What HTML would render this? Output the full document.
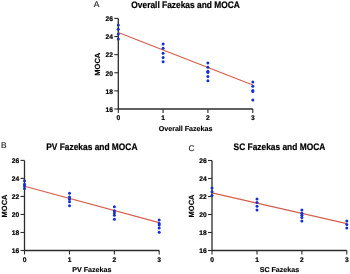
<!DOCTYPE html>
<html><head><meta charset="utf-8"><style>
html,body{margin:0;padding:0;background:#fff;}
body{width:350px;height:274px;overflow:hidden;}
svg{display:block;will-change:transform;}
text{font-family:"Liberation Sans", sans-serif;text-rendering:geometricPrecision;}
.tk{font-size:6.7px;font-weight:bold;fill:#000;stroke:#000;stroke-width:0.2px;}
.al{font-size:7.1px;font-weight:bold;fill:#000;stroke:#000;stroke-width:0.15px;}
.ti{font-size:8.4px;font-weight:bold;fill:#000;stroke:#000;stroke-width:0.2px;}
.pl{font-size:8.4px;fill:#222;stroke:#222;stroke-width:0.15px;}
</style></head><body>
<svg width="350" height="274" viewBox="0 0 350 274">
<rect width="350" height="274" fill="#fff"/>
<path d="M118.30 18.40 V109.00 H252.80" fill="none" stroke="#2c2c2c" stroke-width="1.3"/>
<path d="M114.30 18.40 H118.30" stroke="#2c2c2c" stroke-width="1.1"/>
<text x="113.00" y="21.25" text-anchor="end" class="tk">26</text>
<path d="M114.30 36.52 H118.30" stroke="#2c2c2c" stroke-width="1.1"/>
<text x="113.00" y="39.37" text-anchor="end" class="tk">24</text>
<path d="M114.30 54.64 H118.30" stroke="#2c2c2c" stroke-width="1.1"/>
<text x="113.00" y="57.49" text-anchor="end" class="tk">22</text>
<path d="M114.30 72.76 H118.30" stroke="#2c2c2c" stroke-width="1.1"/>
<text x="113.00" y="75.61" text-anchor="end" class="tk">20</text>
<path d="M114.30 90.88 H118.30" stroke="#2c2c2c" stroke-width="1.1"/>
<text x="113.00" y="93.73" text-anchor="end" class="tk">18</text>
<path d="M114.30 109.00 H118.30" stroke="#2c2c2c" stroke-width="1.1"/>
<text x="113.00" y="111.85" text-anchor="end" class="tk">16</text>
<path d="M118.30 109.00 V113.00" stroke="#2c2c2c" stroke-width="1.1"/>
<text x="118.30" y="120.45" text-anchor="middle" class="tk">0</text>
<path d="M163.10 109.00 V113.00" stroke="#2c2c2c" stroke-width="1.1"/>
<text x="163.10" y="120.45" text-anchor="middle" class="tk">1</text>
<path d="M207.90 109.00 V113.00" stroke="#2c2c2c" stroke-width="1.1"/>
<text x="207.90" y="120.45" text-anchor="middle" class="tk">2</text>
<path d="M252.80 109.00 V113.00" stroke="#2c2c2c" stroke-width="1.1"/>
<text x="252.80" y="120.45" text-anchor="middle" class="tk">3</text>
<text x="185.55" y="130.55" text-anchor="middle" class="al">Overall Fazekas</text>
<text transform="translate(99.80 64.20) rotate(-90)" x="0" y="0" text-anchor="middle" class="al" style="font-size:7.5px">MOCA</text>
<text transform="translate(185.55 7.90) scale(1 1.13)" x="0" y="0" text-anchor="middle" class="ti">Overall Fazekas and MOCA</text>
<text x="93.80" y="6.80" class="pl">A</text>
<path d="M118.30 32.60 L252.80 85.10" stroke="#d65e4c" stroke-width="1.1"/>
<circle cx="118.30" cy="24.90" r="1.5" fill="#1430d4"/>
<circle cx="118.30" cy="29.20" r="1.5" fill="#1430d4"/>
<circle cx="118.30" cy="34.10" r="1.5" fill="#1430d4"/>
<circle cx="118.30" cy="38.90" r="1.5" fill="#1430d4"/>
<circle cx="163.10" cy="44.00" r="1.5" fill="#1430d4"/>
<circle cx="163.10" cy="48.30" r="1.5" fill="#1430d4"/>
<circle cx="163.10" cy="53.20" r="1.5" fill="#1430d4"/>
<circle cx="163.10" cy="57.60" r="1.5" fill="#1430d4"/>
<circle cx="163.10" cy="61.70" r="1.5" fill="#1430d4"/>
<circle cx="207.90" cy="62.90" r="1.5" fill="#1430d4"/>
<circle cx="207.90" cy="67.30" r="1.5" fill="#1430d4"/>
<circle cx="207.90" cy="71.30" r="1.5" fill="#1430d4"/>
<circle cx="207.90" cy="72.40" r="1.5" fill="#1430d4"/>
<circle cx="207.90" cy="76.60" r="1.5" fill="#1430d4"/>
<circle cx="207.90" cy="80.80" r="1.5" fill="#1430d4"/>
<circle cx="252.80" cy="81.90" r="1.5" fill="#1430d4"/>
<circle cx="252.80" cy="86.20" r="1.5" fill="#1430d4"/>
<circle cx="252.80" cy="90.50" r="1.5" fill="#1430d4"/>
<circle cx="252.80" cy="91.60" r="1.5" fill="#1430d4"/>
<circle cx="252.80" cy="100.00" r="1.5" fill="#1430d4"/>
<path d="M24.50 160.40 V250.50 H159.20" fill="none" stroke="#2c2c2c" stroke-width="1.3"/>
<path d="M20.50 160.40 H24.50" stroke="#2c2c2c" stroke-width="1.1"/>
<text x="19.20" y="163.25" text-anchor="end" class="tk">26</text>
<path d="M20.50 178.42 H24.50" stroke="#2c2c2c" stroke-width="1.1"/>
<text x="19.20" y="181.27" text-anchor="end" class="tk">24</text>
<path d="M20.50 196.44 H24.50" stroke="#2c2c2c" stroke-width="1.1"/>
<text x="19.20" y="199.29" text-anchor="end" class="tk">22</text>
<path d="M20.50 214.46 H24.50" stroke="#2c2c2c" stroke-width="1.1"/>
<text x="19.20" y="217.31" text-anchor="end" class="tk">20</text>
<path d="M20.50 232.48 H24.50" stroke="#2c2c2c" stroke-width="1.1"/>
<text x="19.20" y="235.33" text-anchor="end" class="tk">18</text>
<path d="M20.50 250.50 H24.50" stroke="#2c2c2c" stroke-width="1.1"/>
<text x="19.20" y="253.35" text-anchor="end" class="tk">16</text>
<path d="M24.50 250.50 V254.50" stroke="#2c2c2c" stroke-width="1.1"/>
<text x="24.50" y="261.95" text-anchor="middle" class="tk">0</text>
<path d="M69.50 250.50 V254.50" stroke="#2c2c2c" stroke-width="1.1"/>
<text x="69.50" y="261.95" text-anchor="middle" class="tk">1</text>
<path d="M114.40 250.50 V254.50" stroke="#2c2c2c" stroke-width="1.1"/>
<text x="114.40" y="261.95" text-anchor="middle" class="tk">2</text>
<path d="M159.20 250.50 V254.50" stroke="#2c2c2c" stroke-width="1.1"/>
<text x="159.20" y="261.95" text-anchor="middle" class="tk">3</text>
<text x="91.85" y="272.05" text-anchor="middle" class="al">PV Fazekas</text>
<text transform="translate(6.60 205.95) rotate(-90)" x="0" y="0" text-anchor="middle" class="al" style="font-size:7.5px">MOCA</text>
<text transform="translate(91.85 149.90) scale(1 1.13)" x="0" y="0" text-anchor="middle" class="ti">PV Fazekas and MOCA</text>
<text x="0.90" y="148.30" class="pl">B</text>
<path d="M24.50 186.30 L159.20 222.60" stroke="#d65e4c" stroke-width="1.1"/>
<circle cx="24.50" cy="180.70" r="1.5" fill="#1430d4"/>
<circle cx="24.50" cy="184.30" r="1.5" fill="#1430d4"/>
<circle cx="24.50" cy="185.90" r="1.5" fill="#1430d4"/>
<circle cx="24.50" cy="188.60" r="1.5" fill="#1430d4"/>
<circle cx="69.50" cy="193.30" r="1.5" fill="#1430d4"/>
<circle cx="69.50" cy="197.00" r="1.5" fill="#1430d4"/>
<circle cx="69.50" cy="199.30" r="1.5" fill="#1430d4"/>
<circle cx="69.50" cy="201.80" r="1.5" fill="#1430d4"/>
<circle cx="69.50" cy="205.80" r="1.5" fill="#1430d4"/>
<circle cx="114.40" cy="206.70" r="1.5" fill="#1430d4"/>
<circle cx="114.40" cy="210.70" r="1.5" fill="#1430d4"/>
<circle cx="114.40" cy="213.00" r="1.5" fill="#1430d4"/>
<circle cx="114.40" cy="215.20" r="1.5" fill="#1430d4"/>
<circle cx="114.40" cy="219.20" r="1.5" fill="#1430d4"/>
<circle cx="159.20" cy="219.90" r="1.5" fill="#1430d4"/>
<circle cx="159.20" cy="223.50" r="1.5" fill="#1430d4"/>
<circle cx="159.20" cy="225.00" r="1.5" fill="#1430d4"/>
<circle cx="159.20" cy="227.90" r="1.5" fill="#1430d4"/>
<circle cx="159.20" cy="232.20" r="1.5" fill="#1430d4"/>
<path d="M212.00 160.50 V250.50 H346.80" fill="none" stroke="#2c2c2c" stroke-width="1.3"/>
<path d="M208.00 160.50 H212.00" stroke="#2c2c2c" stroke-width="1.1"/>
<text x="206.70" y="163.35" text-anchor="end" class="tk">26</text>
<path d="M208.00 178.50 H212.00" stroke="#2c2c2c" stroke-width="1.1"/>
<text x="206.70" y="181.35" text-anchor="end" class="tk">24</text>
<path d="M208.00 196.50 H212.00" stroke="#2c2c2c" stroke-width="1.1"/>
<text x="206.70" y="199.35" text-anchor="end" class="tk">22</text>
<path d="M208.00 214.50 H212.00" stroke="#2c2c2c" stroke-width="1.1"/>
<text x="206.70" y="217.35" text-anchor="end" class="tk">20</text>
<path d="M208.00 232.50 H212.00" stroke="#2c2c2c" stroke-width="1.1"/>
<text x="206.70" y="235.35" text-anchor="end" class="tk">18</text>
<path d="M208.00 250.50 H212.00" stroke="#2c2c2c" stroke-width="1.1"/>
<text x="206.70" y="253.35" text-anchor="end" class="tk">16</text>
<path d="M212.00 250.50 V254.50" stroke="#2c2c2c" stroke-width="1.1"/>
<text x="212.00" y="261.95" text-anchor="middle" class="tk">0</text>
<path d="M257.00 250.50 V254.50" stroke="#2c2c2c" stroke-width="1.1"/>
<text x="257.00" y="261.95" text-anchor="middle" class="tk">1</text>
<path d="M301.90 250.50 V254.50" stroke="#2c2c2c" stroke-width="1.1"/>
<text x="301.90" y="261.95" text-anchor="middle" class="tk">2</text>
<path d="M346.80 250.50 V254.50" stroke="#2c2c2c" stroke-width="1.1"/>
<text x="346.80" y="261.95" text-anchor="middle" class="tk">3</text>
<text x="279.40" y="272.05" text-anchor="middle" class="al">SC Fazekas</text>
<text transform="translate(194.20 206.00) rotate(-90)" x="0" y="0" text-anchor="middle" class="al" style="font-size:7.5px">MOCA</text>
<text transform="translate(279.40 150.00) scale(1 1.13)" x="0" y="0" text-anchor="middle" class="ti">SC Fazekas and MOCA</text>
<text x="188.40" y="150.60" class="pl">C</text>
<path d="M212.00 192.90 L346.80 223.60" stroke="#d65e4c" stroke-width="1.1"/>
<circle cx="212.00" cy="188.00" r="1.5" fill="#1430d4"/>
<circle cx="212.00" cy="191.80" r="1.5" fill="#1430d4"/>
<circle cx="212.00" cy="195.60" r="1.5" fill="#1430d4"/>
<circle cx="257.00" cy="199.00" r="1.5" fill="#1430d4"/>
<circle cx="257.00" cy="202.60" r="1.5" fill="#1430d4"/>
<circle cx="257.00" cy="206.30" r="1.5" fill="#1430d4"/>
<circle cx="257.00" cy="210.00" r="1.5" fill="#1430d4"/>
<circle cx="301.90" cy="209.90" r="1.5" fill="#1430d4"/>
<circle cx="301.90" cy="213.20" r="1.5" fill="#1430d4"/>
<circle cx="301.90" cy="215.20" r="1.5" fill="#1430d4"/>
<circle cx="301.90" cy="217.40" r="1.5" fill="#1430d4"/>
<circle cx="301.90" cy="221.00" r="1.5" fill="#1430d4"/>
<circle cx="346.80" cy="220.90" r="1.5" fill="#1430d4"/>
<circle cx="346.80" cy="224.50" r="1.5" fill="#1430d4"/>
<circle cx="346.80" cy="228.00" r="1.5" fill="#1430d4"/>
</svg>
</body></html>
